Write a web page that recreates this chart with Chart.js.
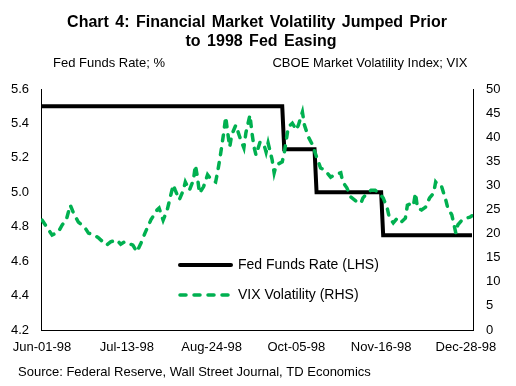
<!DOCTYPE html>
<html><head><meta charset="utf-8">
<script src="https://cdn.jsdelivr.net/npm/chart.js@4/dist/chart.umd.min.js"></script>
<style>html,body{margin:0;padding:0;background:#fff}canvas{display:block}</style>
</head><body>
<canvas id="c" width="516" height="386"></canvas>
<script>
const titleLines = ['Chart 4: Financial Market Volatility Jumped Prior', 'to 1998 Fed Easing'];
const leftAxisTitle = 'Fed Funds Rate; %';
const rightAxisTitle = 'CBOE Market Volatility Index; VIX';
const sourceText = 'Source: Federal Reserve, Wall Street Journal, TD Economics';
const seriesNames = ['Fed Funds Rate (LHS)', 'VIX Volatility (RHS)'];

const xTickDates = ['1998-06-01','1998-07-13','1998-08-24','1998-10-05','1998-11-16','1998-12-28'];
const xTickLabels = ['Jun-01-98','Jul-13-98','Aug-24-98','Oct-05-98','Nov-16-98','Dec-28-98'];
const leftTicks = [4.2,4.4,4.6,4.8,5.0,5.2,5.4,5.6];
const leftTickLabels = ['4.2','4.4','4.6','4.8','5.0','5.2','5.4','5.6'];
const rightTicks = [0,5,10,15,20,25,30,35,40,45,50];
const rightTickLabels = ['0','5','10','15','20','25','30','35','40','45','50'];

const fedDates = ['1998-06-01','1998-09-28','1998-09-29','1998-10-14','1998-10-15','1998-11-16','1998-11-17','1998-12-31'];
const fedValues = [5.5,5.5,5.25,5.25,5.0,5.0,4.75,4.75];

const vixDates = ['06-01','06-06','06-09','06-11','06-13','06-15','06-17','06-19','06-22','06-24','06-27','06-29',
'07-03','07-05','07-08','07-10','07-12','07-16','07-18','07-20','07-22','07-25','07-28','07-29','07-31',
'08-02','08-03','08-05','08-06','08-08','08-10','08-11','08-13','08-15','08-16','08-17','08-18','08-20','08-22','08-24','08-26','08-27','08-28','08-29','08-30','08-31',
'09-01','09-02','09-03','09-05','09-07','09-09','09-10','09-12','09-13','09-14','09-15','09-17','09-19','09-20','09-21','09-23','09-24','09-25','09-28','09-29','09-30',
'10-01','10-03','10-05','10-06','10-08','10-09','10-11','10-13','10-15','10-17','10-19','10-22','10-24','10-27','10-28','10-30',
'11-01','11-04','11-06','11-07','11-09','11-11','11-13','11-15','11-17','11-19','11-20','11-22','11-24','11-26','11-28','11-29',
'12-01','12-02','12-03','12-04','12-06','12-08','12-10','12-12','12-13','12-15','12-16','12-18','12-19','12-21','12-23','12-24','12-26','12-28','12-30','12-31'];
const vixValues = [22.8,19.7,20.3,21.8,22.8,25.9,23.9,22.4,21.4,20.1,19.7,19.1,
17.6,18.3,18.7,17.8,18.3,17.6,16.2,18.0,20.1,22.9,24.9,25.3,22.8,
24.9,26.6,30.1,29.0,27.0,29.0,30.7,29.0,31.1,34.2,31.7,28.4,29.7,32.2,31.1,30.7,32.8,35.3,38.0,40.9,44.2,
40.9,38.0,40.5,42.5,40.0,37.8,40.9,44.6,40.9,38.0,36.3,39.0,38.4,36.9,38.8,35.3,32.6,34.2,34.9,36.7,39.4,
42.1,42.9,41.5,42.5,45.2,42.5,40.0,38.4,35.9,33.6,33.2,31.7,32.2,32.6,30.7,29.5,
27.6,26.6,26.3,27.4,28.4,29.0,29.0,28.4,27.4,25.3,23.4,22.2,23.2,22.4,23.2,25.9,
26.3,25.9,28.4,25.3,24.9,25.5,27.4,28.4,30.7,29.7,29.7,27.0,25.3,23.9,20.1,21.8,22.8,23.2,23.4,23.7];

const FONT = '"Liberation Sans", Arial, sans-serif';
const BASE = Date.parse('1998-06-01');
const dayOf = s => Math.round((Date.parse(s) - BASE) / 86400000);
const xTickDays = xTickDates.map(dayOf);

const fedData = fedDates.map((d, i) => ({x: dayOf(d), y: fedValues[i]}));
const vixData = vixDates.map((d, i) => ({x: dayOf('1998-' + d), y: vixValues[i]}));

const overlay = {
  id: 'overlay',
  afterDraw(chart) {
    const ctx = chart.ctx;
    ctx.save();
    ctx.fillStyle = '#000';
    ctx.textBaseline = 'middle';
    ctx.textAlign = 'center';
    ctx.font = 'bold 16px ' + FONT;
    if ('wordSpacing' in ctx) ctx.wordSpacing = '2px';
    ctx.fillText(titleLines[0], 257, 23);
    ctx.fillText(titleLines[1], 261, 42);
    if ('wordSpacing' in ctx) ctx.wordSpacing = '0px';
    ctx.font = '13px ' + FONT;
    ctx.fillText(leftAxisTitle, 109, 63);
    ctx.fillText(rightAxisTitle, 370, 63);
    ctx.textAlign = 'left';
    ctx.fillText(sourceText, 18, 372);
    // legend
    ctx.strokeStyle = '#000';
    ctx.lineWidth = 4;
    ctx.lineCap = 'round';
    ctx.beginPath(); ctx.moveTo(180, 265); ctx.lineTo(231, 265); ctx.stroke();
    ctx.strokeStyle = '#00b050';
    ctx.lineWidth = 3.5;
    ctx.setLineDash([6, 8]);
    ctx.beginPath(); ctx.moveTo(180, 295); ctx.lineTo(231, 295); ctx.stroke();
    ctx.setLineDash([]);
    ctx.font = '14px ' + FONT;
    ctx.fillText(seriesNames[0], 238, 265);
    ctx.fillText(seriesNames[1], 238, 295);
    ctx.restore();
  }
};

new Chart(document.getElementById('c'), {
  type: 'line',
  data: {
    datasets: [
      {label: seriesNames[0], data: fedData, yAxisID: 'y', borderColor: '#000', borderWidth: 4,
       pointRadius: 0, tension: 0, fill: false, order: 1},
      {label: seriesNames[1], data: vixData, yAxisID: 'y2', borderColor: '#00b050', borderWidth: 3.5,
       borderDash: [6, 8], borderCapStyle: 'round', pointRadius: 0, tension: 0, fill: false, order: 0}
    ]
  },
  options: {
    responsive: false, animation: false, devicePixelRatio: 1,
    layout: {padding: {top: 89, bottom: 26, left: 0, right: 0}},
    plugins: {legend: {display: false}, title: {display: false}, tooltip: {enabled: false}},
    scales: {
      x: {
        type: 'linear', min: -0.5, max: 213.5,
        grid: {display: false, drawTicks: false},
        border: {display: true, color: '#000', width: 1},
        ticks: {autoSkip: false, maxRotation: 0, padding: 10, color: '#000', font: {size: 13, family: FONT},
          callback: v => { const i = xTickDays.indexOf(v); return i >= 0 ? xTickLabels[i] : ''; }},
        afterBuildTicks: s => { s.ticks = xTickDays.map(v => ({value: v})); },
        afterFit: s => { s.height = 30; }
      },
      y: {
        position: 'left', min: 4.2, max: 5.6,
        grid: {display: false, drawTicks: false},
        border: {display: true, color: '#000', width: 1},
        ticks: {padding: 12, color: '#000', font: {size: 13, family: FONT},
          callback: v => { const i = leftTicks.findIndex(t => Math.abs(t - v) < 1e-6); return i >= 0 ? leftTickLabels[i] : ''; }},
        afterBuildTicks: s => { s.ticks = leftTicks.map(v => ({value: v})); },
        afterFit: s => { s.width = 41; }
      },
      y2: {
        position: 'right', min: 0, max: 50,
        grid: {display: false, drawTicks: false},
        border: {display: true, color: '#000', width: 1},
        ticks: {padding: 13, color: '#000', font: {size: 13, family: FONT},
          callback: v => { const i = rightTicks.indexOf(v); return i >= 0 ? rightTickLabels[i] : ''; }},
        afterBuildTicks: s => { s.ticks = rightTicks.map(v => ({value: v})); },
        afterFit: s => { s.width = 43; }
      }
    }
  },
  plugins: [overlay]
});
</script>
</body></html>
